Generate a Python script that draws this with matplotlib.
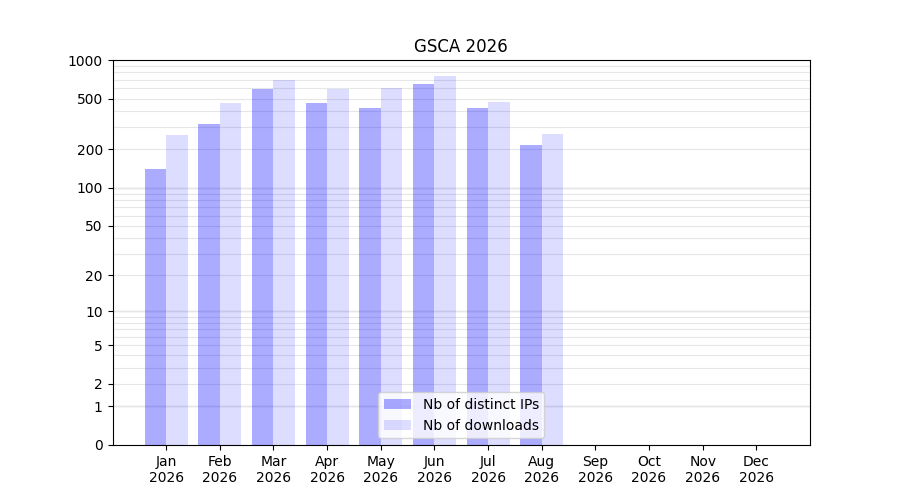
import numpy as np
import matplotlib
matplotlib.use("Agg")
import matplotlib.pyplot as plt

months = ["Jan", "Feb", "Mar", "Apr", "May", "Jun",
          "Jul", "Aug", "Sep", "Oct", "Nov", "Dec"]
year = 2026
distinct_ips = [140, 316, 596, 463, 422, 652, 422, 216, 0, 0, 0, 0]
downloads = [260, 463, 701, 596, 606, 753, 471, 264, 0, 0, 0, 0]
ytick_vals = [0, 1, 2, 5, 10, 20, 50, 100, 200, 500, 1000]


def fwd(v):
    return np.log10(1 + np.clip(v, 0, None))


def inv(v):
    return 10 ** v - 1


fig, ax = plt.subplots(figsize=(9, 5), dpi=100)
x = np.arange(len(months))
w = 0.4
ax.bar(x - w / 2, distinct_ips, w, color="blue", alpha=0.33, linewidth=0,
       label="Nb of distinct IPs")
ax.bar(x + w / 2, downloads, w, color="blue", alpha=0.135, linewidth=0,
       label="Nb of downloads")

ax.set_yscale("function", functions=(fwd, inv))
ax.set_ylim(0, 1000)
ax.set_yticks(ytick_vals)
ax.set_yticklabels([str(v) for v in ytick_vals])
minor = [m * d for d in (1, 10, 100) for m in range(2, 10)]
ax.set_yticks(minor, minor=True)
ax.tick_params(axis="y", which="minor", length=0)
ax.grid(axis="y", which="both", color="#e6e6e6", linewidth=0.8)
for d in (1, 10, 100):
    ax.axhline(d, color="#bbbbbb", linewidth=0.9, zorder=0.5)
ax.set_axisbelow(True)

ax.set_xlim(-1, 12)
ax.set_xticks(x)
ax.set_xticklabels([f"{m}\n{year}" for m in months])
ax.set_title(f"GSCA {year}")
ax.legend(loc="lower center")

fig.savefig("out.png")
